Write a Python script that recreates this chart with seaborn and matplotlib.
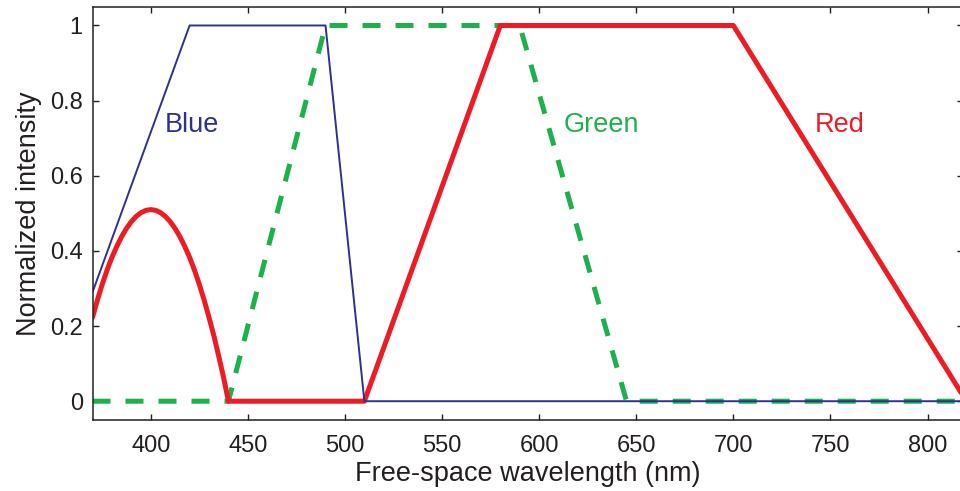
import matplotlib
matplotlib.use("Agg")
import matplotlib.pyplot as plt
import seaborn as sns
import pandas as pd

# Colour-matching functions (normalized intensity vs free-space wavelength)
blue_wl = [370, 420, 490, 510, 820]
blue_val = [0.29, 1.0, 1.0, 0.0, 0.0]

green_wl = [370, 440, 490, 590, 645, 820]
green_val = [0.0, 0.0, 1.0, 1.0, 0.0, 0.0]

red_wl = [370, 372.5, 375, 377.5, 380, 382.5, 385, 387.5, 390, 392.5, 395, 397.5,
          400, 402.5, 405, 407.5, 410, 412.5, 415, 417.5, 420, 422.5, 425, 427.5,
          430, 432.5, 435, 437.5, 440, 510, 580, 700, 820]
red_val = [0.223, 0.269, 0.311, 0.349, 0.383, 0.412, 0.438, 0.460, 0.478, 0.492,
           0.502, 0.508, 0.510, 0.508, 0.502, 0.492, 0.478, 0.460, 0.438, 0.412,
           0.383, 0.349, 0.311, 0.269, 0.223, 0.174, 0.120, 0.063, 0.0, 0.0,
           1.0, 1.0, 0.0]

x_ticks = [400, 450, 500, 550, 600, 650, 700, 750, 800]
y_ticks = [0, 0.2, 0.4, 0.6, 0.8, 1]
y_tick_labels = ["0", "0.2", "0.4", "0.6", "0.8", "1"]

BLUE = "#2e3192"
GREEN = "#1db14b"
RED = "#ed1c24"
INK = "#231f20"

sns.set_style("ticks")
plt.rcParams["font.family"] = ["Liberation Sans", "DejaVu Sans"]

fig = plt.figure(figsize=(9.6, 4.91), dpi=100)
ax = fig.add_axes([92.5 / 960, 71 / 491, 870 / 960, 413.3 / 491])

green_df = pd.DataFrame({"wl": green_wl, "val": green_val})
red_df = pd.DataFrame({"wl": red_wl, "val": red_val})
blue_df = pd.DataFrame({"wl": blue_wl, "val": blue_val})

sns.lineplot(data=green_df, x="wl", y="val", ax=ax, color=GREEN, lw=3.6,
             estimator=None, sort=False)
ax.lines[-1].set_dashes([3.6, 3.0])
sns.lineplot(data=red_df, x="wl", y="val", ax=ax, color=RED, lw=3.6,
             estimator=None, sort=False, solid_joinstyle="round")
sns.lineplot(data=blue_df, x="wl", y="val", ax=ax, color=BLUE, lw=1.4,
             estimator=None, sort=False)

ax.set_xlim(370, 818)
ax.set_ylim(-0.05, 1.05)
ax.set_xticks(x_ticks)
ax.set_yticks(y_ticks)
ax.set_yticklabels(y_tick_labels)
ax.tick_params(direction="in", top=True, right=True, length=4.5, width=1,
               labelsize=17, colors=INK)
ax.tick_params(axis="x", pad=11)
ax.tick_params(axis="y", pad=7)
for sp in ax.spines.values():
    sp.set_visible(True)
    sp.set_linewidth(1.1)
    sp.set_color(INK)

ax.set_xlabel("Free-space wavelength (nm)", fontsize=19.5, color=INK, labelpad=3)
ax.set_ylabel("Normalized intensity", fontsize=19.5, color=INK, labelpad=6)

ax.text(421, 0.736, "Blue", color=BLUE, fontsize=19.5, ha="center", va="center")
ax.text(632, 0.736, "Green", color=GREEN, fontsize=19.5, ha="center", va="center")
ax.text(755, 0.736, "Red", color=RED, fontsize=19.5, ha="center", va="center")

fig.savefig("out.png", dpi=100)
